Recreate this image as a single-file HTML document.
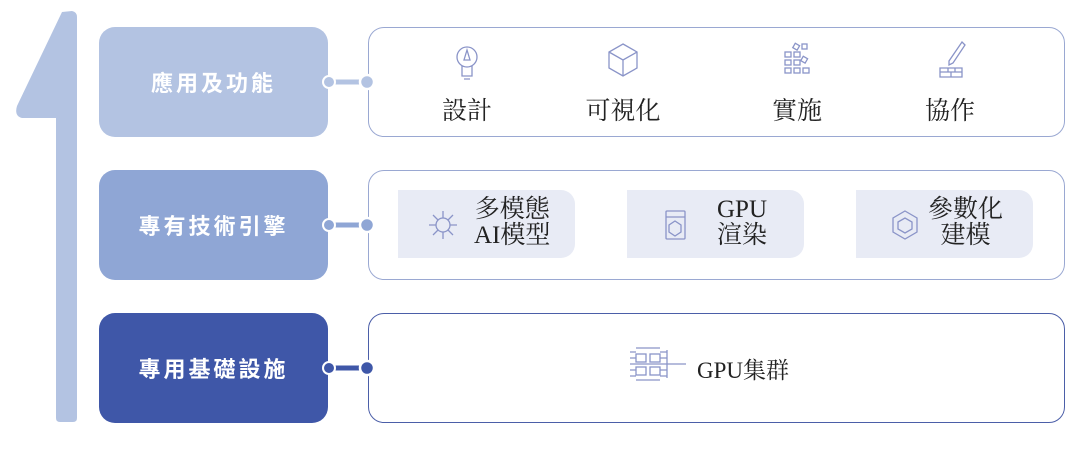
<!DOCTYPE html>
<html><head><meta charset="utf-8"><style>
body{margin:0;width:1080px;height:449px;background:#fff;position:relative;overflow:hidden;font-family:"Liberation Sans","Noto Sans CJK TC",sans-serif}
.a{position:absolute}
.lb{position:absolute;left:99px;width:229px;height:110px;border-radius:16px;color:#fff;font-size:22px;letter-spacing:3px;display:flex;align-items:center;justify-content:center;font-family:"Noto Sans CJK TC",sans-serif;font-weight:bold}
.rb{position:absolute;left:368px;width:695px;height:108px;border:1.5px solid #9aa8d2;border-radius:16px;background:#fff}
.serif{font-family:"Liberation Serif","Noto Serif CJK SC",serif;color:#222}
.t{position:absolute;font-size:25px;text-align:center;width:120px}
.chip{position:absolute;top:190px;width:177px;height:68px;background:#e8ebf5;border-radius:0 14px 14px 0}
.ct{position:absolute;font-size:25px;line-height:26px;text-align:center}
</style></head><body>
<svg class="a" style="left:0;top:0" width="1080" height="449">
<path d="M62,12 L72,11 Q77,12 77,17 L77,418 Q77,422 73,422 L60,422 Q56,422 56,418 L56,118 L22,118 Q14,116 17,106 Z" fill="#b3c3e2"/>
</svg>
<div class="lb" style="top:27px;background:#b3c3e2">應用及功能</div>
<div class="lb" style="top:170px;background:#8fa6d5">專有技術引擎</div>
<div class="lb" style="top:313px;background:#3f57a8">專用基礎設施</div>
<div class="rb" style="top:27px"></div>
<div class="rb" style="top:170px"></div>
<div class="rb" style="top:313px;border-color:#4b5ea8"></div>
<div class="serif">
<div class="t" style="left:407px;top:91px">設計</div>
<div class="t" style="left:563px;top:91px">可視化</div>
<div class="t" style="left:737px;top:91px">實施</div>
<div class="t" style="left:890px;top:91px">協作</div>
<div class="chip" style="left:398px"></div>
<div class="chip" style="left:627px"></div>
<div class="chip" style="left:856px"></div>
<div class="ct" style="left:474px;top:197px">多模態<br>AI模型</div>
<div class="ct" style="left:712px;top:197px;width:60px">GPU<br>渲染</div>
<div class="ct" style="left:928px;top:197px">參數化<br>建模</div>
<div class="a" style="left:697px;top:352px;font-size:23px">GPU集群</div>
</div>
<svg class="a" style="left:0;top:0" width="1080" height="449">
<g stroke-width="5">
<line x1="330" y1="82" x2="368" y2="82" stroke="#b3c3e2"/>
<line x1="330" y1="225" x2="368" y2="225" stroke="#8fa6d5"/>
<line x1="330" y1="368" x2="368" y2="368" stroke="#3f57a8"/>
</g>
<circle cx="329" cy="82" r="6" fill="#b3c3e2" stroke="#fff" stroke-width="2"/>
<circle cx="367" cy="82" r="7" fill="#b3c3e2" stroke="#fff" stroke-width="2.5"/>
<circle cx="329" cy="225" r="6" fill="#8fa6d5" stroke="#fff" stroke-width="2"/>
<circle cx="367" cy="225" r="7" fill="#8fa6d5" stroke="#fff" stroke-width="2.5"/>
<circle cx="329" cy="368" r="6" fill="#3f57a8" stroke="#fff" stroke-width="2"/>
<circle cx="367" cy="368" r="7" fill="#3f57a8" stroke="#fff" stroke-width="2.5"/>
<g fill="none" stroke="#8a94c8" stroke-width="1.3">
<circle cx="467" cy="57" r="10"/><path d="M462,66 L462,76 L472,76 L472,66 M464,79 L470,79"/><path d="M467,50 L464,60 L470,60 Z"/>
<path d="M623,44 L637,52 L637,68 L623,76 L609,68 L609,52 Z M609,52 L623,60 L637,52 M623,60 L623,76"/>
<rect x="785" y="52" width="6" height="5"/><rect x="794" y="52" width="6" height="5"/><rect x="785" y="60" width="6" height="5"/><rect x="794" y="60" width="6" height="5"/><rect x="785" y="68" width="6" height="5"/><rect x="794" y="68" width="6" height="5"/><rect x="803" y="68" width="6" height="5"/><rect x="802" y="44" width="5" height="5"/><rect x="802" y="57" width="5" height="5" transform="rotate(30 804 59)"/><rect x="794" y="44" width="5" height="5" transform="rotate(30 796 46)"/>
<path d="M962,42 L965,45 L953,63 L949,65 L949,61 Z M940,68 L962,68 L962,77 L940,77 Z M940,72 L962,72 M948,68 L948,72 M955,68 L955,72 M951,72 L951,77"/>
<circle cx="443" cy="225" r="7"/><path d="M443,211 L443,218 M443,232 L443,239 M429,225 L436,225 M450,225 L457,225 M433,215 L438,220 M453,215 L448,220 M433,235 L438,230 M453,235 L448,230"/>
<rect x="666" y="211" width="19" height="28" rx="1"/><path d="M666,217 L685,217 M675,221 L681,225 L681,232 L675,236 L669,232 L669,225 Z"/>
<path d="M905,211 L917,218 L917,232 L905,239 L893,232 L893,218 Z M898,222 L905,218 L912,222 L912,229 L905,233 L898,229 Z"/>
<rect x="636" y="354" width="10" height="8"/><rect x="650" y="354" width="10" height="8"/><rect x="636" y="367" width="10" height="8"/><rect x="650" y="367" width="10" height="8"/>
<path d="M630,352 L636,352 M630,358 L636,358 M630,364 L686,364 M630,370 L636,370 M630,376 L636,376 M660,352 L667,352 M660,358 L667,358 M660,370 L667,370 M660,376 L667,376 M667,350 L667,378 M636,380 L660,380 M636,348 L660,348"/>
</g>
</svg>
</body></html>
